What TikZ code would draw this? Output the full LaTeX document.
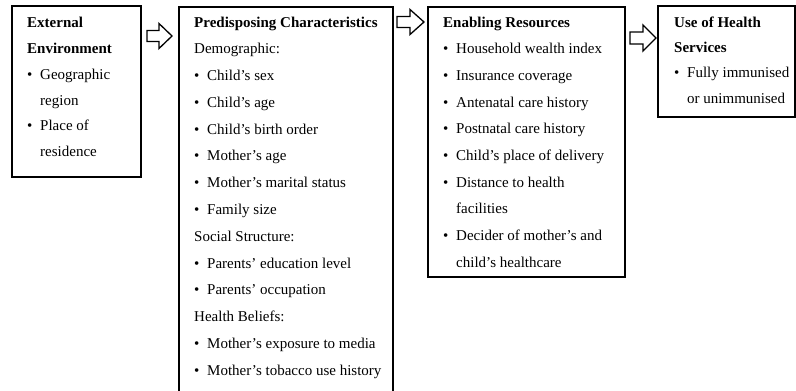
\documentclass[tikz,border=0pt]{standalone}
\usepackage{fontspec}
\setmainfont{Liberation Serif}
\newcommand{\bl}[1]{\makebox[13pt][l]{\textbullet}#1}
\newcommand{\cl}[1]{\hspace*{13pt}#1}
\tikzset{
  boxframe/.style={draw=black, line width=1.4pt, fill=white},
  boxtext/.style={inner sep=0pt, anchor=base west, align=left},
  blockarrow/.style={draw=black, line width=1.3pt, fill=white, line join=miter},
}
\begin{document}
\begin{tikzpicture}[x=1pt,y=-1pt]
\useasboundingbox (0,0) rectangle (796,391);
\clip (0,0) rectangle (796,391);
% boxes
\draw[boxframe] (12,6) rectangle (141,177);
\node[inner sep=0pt] (b1) at (76.5,91.5) {};
\draw[boxframe] (179,7) rectangle (393,396);
\node[inner sep=0pt] (b2) at (286,200) {};
\draw[boxframe] (428,7) rectangle (625,277);
\node[inner sep=0pt] (b3) at (526.5,142) {};
\draw[boxframe] (658,6) rectangle (795,117);
\node[inner sep=0pt] (b4) at (726.5,61.5) {};
% texts
\node[boxtext, font=\fontsize{15}{26}\selectfont] (t1) at (27,27) {%
\begin{tabular}[t]{@{}l@{}}
\textbf{External}\\
\textbf{Environment}\\
\bl{Geographic}\\
\cl{region}\\
\bl{Place of}\\
\cl{residence}
\end{tabular}};
\node[boxtext, font=\fontsize{15}{26.8}\selectfont] (t2) at (194,27) {%
\begin{tabular}[t]{@{}l@{}}
\textbf{Predisposing Characteristics}\\
Demographic:\\
\bl{Child’s sex}\\
\bl{Child’s age}\\
\bl{Child’s birth order}\\
\bl{Mother’s age}\\
\bl{Mother’s marital status}\\
\bl{Family size}\\
Social Structure:\\
\bl{Parents’ education level}\\
\bl{Parents’ occupation}\\
Health Beliefs:\\
\bl{Mother’s exposure to media}\\
\bl{Mother’s tobacco use history}
\end{tabular}};
\node[boxtext, font=\fontsize{15}{26.7}\selectfont] (t3) at (443,27) {%
\begin{tabular}[t]{@{}l@{}}
\textbf{Enabling Resources}\\
\bl{Household wealth index}\\
\bl{Insurance coverage}\\
\bl{Antenatal care history}\\
\bl{Postnatal care history}\\
\bl{Child’s place of delivery}\\
\bl{Distance to health}\\
\cl{facilities}\\
\bl{Decider of mother’s and}\\
\cl{child’s healthcare}
\end{tabular}};
\node[boxtext, font=\fontsize{15}{25.4}\selectfont] (t4) at (674,27) {%
\begin{tabular}[t]{@{}l@{}}
\textbf{Use of Health}\\
\textbf{Services}\\
\bl{Fully immunised}\\
\cl{or unimmunised}
\end{tabular}};
% block arrows
\draw[blockarrow] (147,30.5) -- (159,30.5) -- (159,23.5) -- (172,36) -- (159,48.5) -- (159,41.5) -- (147,41.5) -- cycle;
\draw[blockarrow] (397,16.5) -- (410,16.5) -- (410,9.5) -- (424,22) -- (410,34.5) -- (410,27.5) -- (397,27.5) -- cycle;
\draw[blockarrow] (630,32) -- (643,32) -- (643,25) -- (656,38) -- (643,51) -- (643,44) -- (630,44) -- cycle;
\end{tikzpicture}
\end{document}
